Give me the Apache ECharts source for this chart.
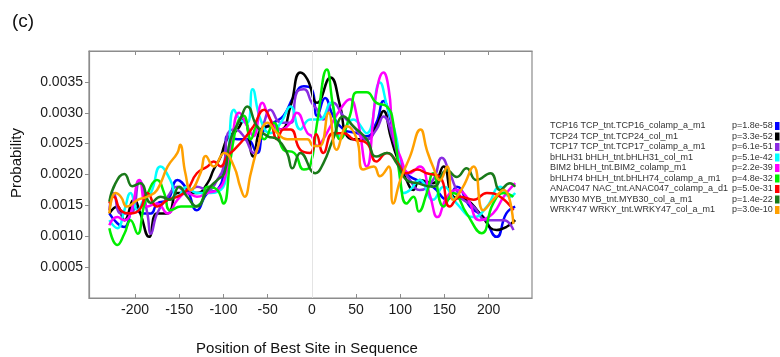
<!DOCTYPE html>
<html><head><meta charset="utf-8">
<script src="https://cdn.jsdelivr.net/npm/echarts@6/dist/echarts.min.js"></script>
<style>html,body{margin:0;padding:0;background:#fff}#c{width:780px;height:357px}</style>
</head><body><div id="c"></div>
<script>
// ---- data ----
const xTicks = [-200, -150, -100, -50, 0, 50, 100, 150, 200];
const yTicks = [0.0005, 0.0010, 0.0015, 0.0020, 0.0025, 0.0030, 0.0035];
const motifNames = [
  'TCP16 TCP_tnt.TCP16_colamp_a_m1',
  'TCP24 TCP_tnt.TCP24_col_m1',
  'TCP17 TCP_tnt.TCP17_colamp_a_m1',
  'bHLH31 bHLH_tnt.bHLH31_col_m1',
  'BIM2 bHLH_tnt.BIM2_colamp_m1',
  'bHLH74 bHLH_tnt.bHLH74_colamp_a_m1',
  'ANAC047 NAC_tnt.ANAC047_colamp_a_d1',
  'MYB30 MYB_tnt.MYB30_col_a_m1',
  'WRKY47 WRKY_tnt.WRKY47_col_a_m1'
];
const pValues = ['p=1.8e-58','p=3.3e-52','p=6.1e-51','p=5.1e-42','p=2.2e-39','p=4.8e-32','p=5.0e-31','p=1.4e-22','p=3.0e-10'];

const tcp16 = [[-229,0.00137],[-220,0.00121],[-212,0.00115],[-201,0.00148],[-192,0.00137],[-182,0.00137],[-175,0.00153],[-163,0.00159],[-152,0.00191],[-141,0.00175],[-130,0.00142],[-118,0.0017],[-107,0.00175],[-99,0.0021],[-96,0.00262],[-84,0.00257],[-73,0.00257],[-62,0.00235],[-54,0.00273],[-43,0.00284],[-32,0.00295],[-20,0.00327],[-9,0.00343],[0,0.00338],[6,0.00295],[15,0.00324],[24,0.00295],[36,0.00273],[51,0.00267],[62,0.00262],[73,0.00284],[81,0.00319],[89,0.00289],[96,0.0024],[107,0.00202],[119,0.00191],[137,0.0018],[153,0.00159],[164,0.0018],[179,0.00148],[194,0.00131],[209,0.00099],[220,0.00137],[230,0.00148]];
const tcp24 = [[-229,0.00137],[-220,0.00148],[-212,0.00126],[-201,0.00159],[-194,0.00137],[-184,0.00099],[-175,0.00137],[-163,0.00137],[-152,0.0017],[-141,0.0017],[-130,0.0017],[-118,0.00186],[-111,0.00208],[-103,0.00229],[-96,0.00257],[-84,0.00273],[-77,0.00289],[-66,0.00229],[-58,0.00273],[-47,0.00278],[-35,0.00273],[-24,0.00311],[-13,0.00365],[-5,0.00354],[6,0.00316],[21,0.00357],[32,0.00311],[40,0.00262],[51,0.00257],[62,0.00257],[73,0.00278],[81,0.00303],[89,0.00262],[96,0.00229],[107,0.00191],[115,0.00175],[122,0.00191],[137,0.00186],[149,0.00213],[160,0.00164],[175,0.00159],[190,0.00137],[209,0.0011],[220,0.00115],[230,0.00126]];
const tcp17 = [[-229,0.00142],[-224,0.0017],[-216,0.00137],[-205,0.00137],[-195,0.0019],[-186,0.00137],[-182,0.00104],[-175,0.00137],[-163,0.00164],[-152,0.0018],[-141,0.0017],[-130,0.0018],[-118,0.00175],[-107,0.00191],[-99,0.00218],[-96,0.00262],[-88,0.00273],[-77,0.00262],[-66,0.00235],[-54,0.00284],[-47,0.00305],[-35,0.00284],[-24,0.00284],[-17,0.00333],[-9,0.00338],[0,0.00316],[6,0.00305],[13,0.00289],[24,0.00316],[36,0.00294],[47,0.00278],[62,0.00257],[73,0.00273],[81,0.00294],[92,0.00257],[100,0.00218],[111,0.00191],[122,0.00175],[137,0.00191],[147,0.00227],[156,0.00202],[168,0.00164],[183,0.00148],[198,0.00126],[217,0.00126],[228,0.0011]];
const bhlh31 = [[-229,0.00126],[-220,0.00113],[-212,0.00142],[-205,0.0017],[-197,0.00142],[-190,0.00159],[-182,0.0017],[-171,0.00213],[-160,0.00191],[-152,0.00164],[-141,0.0018],[-130,0.0017],[-118,0.0017],[-103,0.00175],[-96,0.00213],[-88,0.00305],[-81,0.00289],[-73,0.00284],[-67,0.00338],[-58,0.00289],[-47,0.00267],[-35,0.00284],[-24,0.0031],[-13,0.00273],[-2,0.00289],[9,0.00289],[21,0.00316],[32,0.00262],[47,0.00289],[62,0.00267],[77,0.00349],[85,0.00311],[96,0.00257],[104,0.0017],[111,0.00175],[122,0.00191],[137,0.00159],[149,0.0018],[164,0.00153],[183,0.00131],[198,0.00148],[213,0.0018],[224,0.00164],[230,0.0017]];
const bim2 = [[-229,0.00118],[-220,0.00131],[-212,0.00126],[-205,0.00137],[-195,0.00191],[-186,0.00148],[-175,0.00153],[-163,0.00137],[-152,0.00159],[-141,0.0017],[-130,0.00164],[-118,0.0017],[-107,0.00175],[-99,0.00191],[-92,0.0024],[-82,0.003],[-73,0.00278],[-66,0.00262],[-56,0.00316],[-47,0.00289],[-35,0.00273],[-24,0.00284],[-17,0.003],[-5,0.00267],[0,0.00262],[6,0.00246],[13,0.00257],[21,0.00278],[32,0.00305],[43,0.00322],[51,0.00294],[62,0.00213],[73,0.00333],[81,0.00365],[87,0.00338],[92,0.00267],[100,0.00229],[111,0.00202],[122,0.00213],[134,0.00164],[142,0.00131],[153,0.00164],[164,0.00175],[175,0.00164],[190,0.00126],[205,0.00137],[217,0.00164],[230,0.00186]];
const bhlh74 = [[-229,0.00113],[-220,0.00086],[-212,0.00104],[-205,0.00126],[-197,0.00104],[-190,0.00148],[-182,0.00181],[-175,0.00191],[-167,0.0017],[-160,0.00142],[-148,0.00148],[-137,0.00148],[-126,0.00153],[-118,0.0018],[-107,0.00175],[-100,0.00153],[-92,0.00224],[-84,0.00284],[-77,0.00295],[-69,0.00257],[-62,0.00278],[-54,0.00257],[-43,0.00284],[-32,0.0024],[-20,0.00235],[-9,0.00208],[-2,0.00213],[6,0.00284],[17,0.0037],[24,0.00311],[32,0.00257],[43,0.00295],[51,0.00333],[62,0.00333],[73,0.00316],[85,0.0031],[92,0.00284],[100,0.00191],[107,0.00153],[115,0.00164],[121,0.0014],[130,0.0017],[137,0.00202],[149,0.00148],[160,0.0017],[175,0.00137],[192,0.00105],[205,0.00153],[217,0.0017],[228,0.00164]];
const anac047 = [[-229,0.00153],[-224,0.00164],[-216,0.00142],[-205,0.00137],[-194,0.00145],[-186,0.0017],[-175,0.00148],[-163,0.00159],[-152,0.00164],[-141,0.00175],[-130,0.00202],[-118,0.00213],[-111,0.00221],[-103,0.00213],[-96,0.00229],[-88,0.0024],[-77,0.00257],[-66,0.00278],[-54,0.00305],[-47,0.00289],[-39,0.00257],[-32,0.00273],[-24,0.00273],[-13,0.0024],[-2,0.00235],[5,0.00265],[13,0.00235],[24,0.00267],[36,0.00267],[47,0.00257],[62,0.00251],[73,0.00221],[85,0.00235],[96,0.00221],[107,0.00202],[119,0.00208],[130,0.00202],[145,0.00196],[156,0.00148],[168,0.00164],[183,0.00159],[198,0.0017],[213,0.00164],[228,0.00142]];
const myb30 = [[-229,0.00156],[-222,0.00186],[-212,0.00201],[-203,0.00181],[-194,0.00186],[-182,0.00154],[-171,0.00164],[-160,0.00159],[-150,0.0018],[-141,0.00164],[-130,0.00148],[-118,0.00175],[-107,0.00191],[-99,0.00202],[-92,0.00257],[-81,0.00289],[-73,0.0031],[-62,0.00278],[-50,0.00262],[-39,0.00257],[-28,0.00235],[-22,0.0021],[-13,0.00235],[4,0.00202],[13,0.00218],[24,0.00257],[36,0.00294],[47,0.00278],[62,0.00257],[73,0.00229],[85,0.00235],[96,0.00218],[107,0.00191],[119,0.00186],[137,0.0018],[153,0.00207],[164,0.00196],[175,0.0021],[186,0.00191],[202,0.00202],[213,0.00175],[224,0.00186],[230,0.0018]];
const wrky47 = [[-229,0.00137],[-222,0.0017],[-216,0.00164],[-209,0.00148],[-197,0.00159],[-186,0.00164],[-175,0.00175],[-163,0.00213],[-152,0.00235],[-149,0.00248],[-143,0.00202],[-137,0.00175],[-126,0.00202],[-120,0.0023],[-111,0.00213],[-99,0.00235],[-88,0.00213],[-81,0.0018],[-76,0.00164],[-69,0.00202],[-62,0.0024],[-50,0.00284],[-39,0.00267],[-28,0.00257],[-17,0.00257],[-5,0.00257],[2,0.00246],[9,0.00246],[19,0.003],[28,0.0024],[40,0.00278],[51,0.00257],[58,0.00208],[70,0.00213],[77,0.00197],[87,0.00213],[92,0.00153],[100,0.00191],[111,0.00229],[123,0.00273],[130,0.0024],[137,0.00213],[145,0.00191],[153,0.00213],[160,0.00159],[171,0.0018],[183,0.00213],[194,0.00142],[205,0.00159],[217,0.00175],[228,0.0012]];

const seriesData = [tcp16, tcp24, tcp17, bhlh31, bim2, bhlh74, anac047, myb30, wrky47];
const colors = ['#0000ff','#000000','#8a2be2','#00ffff','#ff00ff','#00ee00','#ff0000','#1a7a1a','#ffa000'];

// ---- chart ----
const chart = echarts.init(document.getElementById('c'), null, {renderer: 'canvas'});
const FONT = '"Liberation Sans", Arial, sans-serif';
const series = seriesData.map((d, i) => ({
  name: motifNames[i],
  type: 'line',
  data: d,
  smooth: 0.5,
  showSymbol: false,
  symbol: 'none',
  clip: true,
  lineStyle: {color: colors[i], width: 2.5},
  itemStyle: {color: colors[i]},
  z: 3,
  silent: true
}));
series.push({
  type: 'line', data: [], silent: true,
  markLine: {silent: true, symbol: 'none', label: {show: false},
    lineStyle: {color: '#e4e4e4', width: 1, type: 'solid'},
    data: [{xAxis: 0}]},
  z: 1
});
const pMap = {};
motifNames.forEach((n, i) => pMap[n] = pValues[i]);

chart.setOption({
  animation: false,
  backgroundColor: '#fff',
  grid: {left: 89, right: 248, top: 51, bottom: 59, show: true, borderColor: '#8c8c8c', borderWidth: 1.2, backgroundColor: 'transparent'},
  xAxis: [{
    type: 'value', min: -252, max: 249, position: 'bottom',
    axisLine: {show: true, onZero: false, lineStyle: {color: '#8c8c8c', width: 1.2}},
    axisTick: {show: true, inside: true, length: 4, customValues: xTicks, lineStyle: {color: '#8c8c8c'}},
    axisLabel: {show: true, customValues: xTicks, margin: 5, color: '#1a1a1a', fontSize: 14, fontFamily: FONT},
    splitLine: {show: false}
  }, {
    type: 'value', min: -252, max: 249, position: 'top',
    axisLine: {show: true, onZero: false, lineStyle: {color: '#8c8c8c', width: 1.2}},
    axisTick: {show: true, inside: true, length: 4, customValues: xTicks, lineStyle: {color: '#8c8c8c'}},
    axisLabel: {show: false},
    splitLine: {show: false}
  }],
  yAxis: {
    type: 'value', min: 0, max: 0.004,
    axisLine: {show: true, onZero: false, lineStyle: {color: '#8c8c8c', width: 1.2}},
    axisTick: {show: true, inside: false, length: 4, customValues: yTicks, lineStyle: {color: '#8c8c8c'}},
    axisLabel: {show: true, customValues: yTicks, margin: 6, color: '#1a1a1a', fontSize: 14, fontFamily: FONT,
      formatter: v => v.toFixed(4)},
    splitLine: {show: false}
  },
  legend: {
    show: true, orient: 'vertical', left: 550, top: 121, padding: 0,
    align: 'right', icon: 'rect', itemWidth: 4.5, itemHeight: 8, itemGap: 0.5,
    data: motifNames,
    selectedMode: false,
    formatter: n => '{n|' + n + '}{p|' + pMap[n] + '}',
    textStyle: {
      fontSize: 9, color: '#333', fontFamily: FONT, lineHeight: 10,
      rich: {
        n: {width: 182, align: 'left', fontSize: 9, color: '#333', fontFamily: FONT, lineHeight: 10},
        p: {width: 38, align: 'left', fontSize: 9, color: '#333', fontFamily: FONT, lineHeight: 10}
      }
    }
  },
  graphic: [
    {type: 'text', left: 12, top: 12, style: {text: '(c)', font: '19px ' + FONT, fill: '#111'}},
    {type: 'text', x: 17, y: 163, rotation: Math.PI / 2,
      style: {text: 'Probability', font: '15px ' + FONT, fill: '#111', align: 'center', verticalAlign: 'middle'}},
    {type: 'text', x: 307, y: 349,
      style: {text: 'Position of Best Site in Sequence', font: '15px ' + FONT, fill: '#111', align: 'center', verticalAlign: 'middle'}}
  ],
  series: series
});
</script>
</body></html>
